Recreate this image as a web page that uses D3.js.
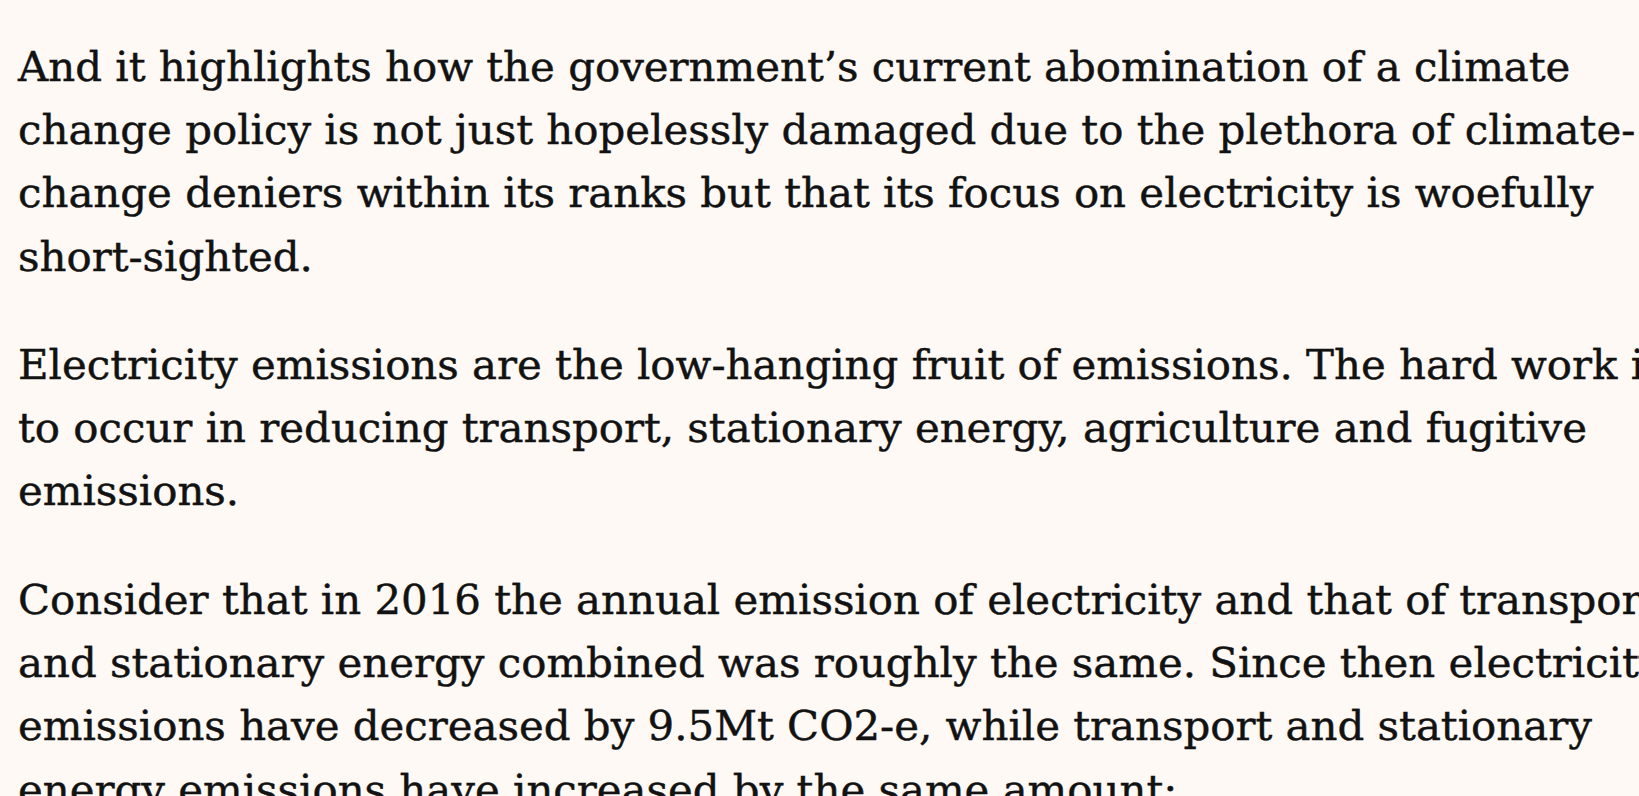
<!DOCTYPE html>
<html>
<head>
<meta charset="utf-8">
<script src="https://cdn.jsdelivr.net/npm/d3@7"></script>
<style>
  html, body { margin: 0; padding: 0; background: #fef9f5; overflow: hidden; }
  svg { display: block; }
</style>
</head>
<body>
<svg width="1639" height="796"></svg>
<script>
var svg = d3.select('svg');
var width = +svg.attr('width'),
    height = +svg.attr('height');

// paragraphs, one entry per printed line
var para1 = [
  'And it highlights how the government\u2019s current abomination of a climate',
  'change policy is not just hopelessly damaged due to the plethora of climate-',
  'change deniers within its ranks but that its focus on electricity is woefully',
  'short-sighted.'
];
var para2 = [
  'Electricity emissions are the low-hanging fruit of emissions. The hard work is',
  'to occur in reducing transport, stationary energy, agriculture and fugitive',
  'emissions.'
];
var para3 = [
  'Consider that in 2016 the annual emission of electricity and that of transport',
  'and stationary energy combined was roughly the same. Since then electricity',
  'emissions have decreased by 9.5Mt CO2-e, while transport and stationary',
  'energy emissions have increased by the same amount:'
];
var paragraphs = [para1, para2, para3];

// flatten into rows
var rows = [];
var row = 0;
paragraphs.forEach(function(p, pi) {
  p.forEach(function(line) {
    rows.push({text: line, row: row, para: pi});
    row++;
  });
});

var lineHeight = 63.3,
    paraGap = 45,
    firstBaseline = 80.7,
    leftX = 18,
    targetWidth = 1576; // width of "change deniers ... woefully" in the picture

var yScale = d3.scaleLinear()
    .domain([0, 1])
    .range([firstBaseline, firstBaseline + lineHeight]);

svg.append('rect')
    .attr('width', width)
    .attr('height', height)
    .attr('fill', '#fef9f5');

var textG = svg.append('g');

var lines = textG.selectAll('text')
    .data(rows)
    .enter().append('text')
    .attr('x', leftX)
    .attr('y', function(d) { return yScale(d.row) + d.para * paraGap; })
    .style('font-family', '"DejaVu Serif", serif')
    .style('font-size', '41px')
    .style('fill', '#121212')
    .style('stroke', '#121212')
    .style('stroke-width', 0.45)
    .text(function(d) { return d.text; });

// squeeze horizontally so the line widths match the original typeface
var ref = lines.filter(function(d) { return d.row === 2; }).node();
var k = targetWidth / ref.getComputedTextLength();
textG.attr('transform', 'scale(' + k + ',1)');
lines.attr('x', leftX / k);
</script>
</body>
</html>
